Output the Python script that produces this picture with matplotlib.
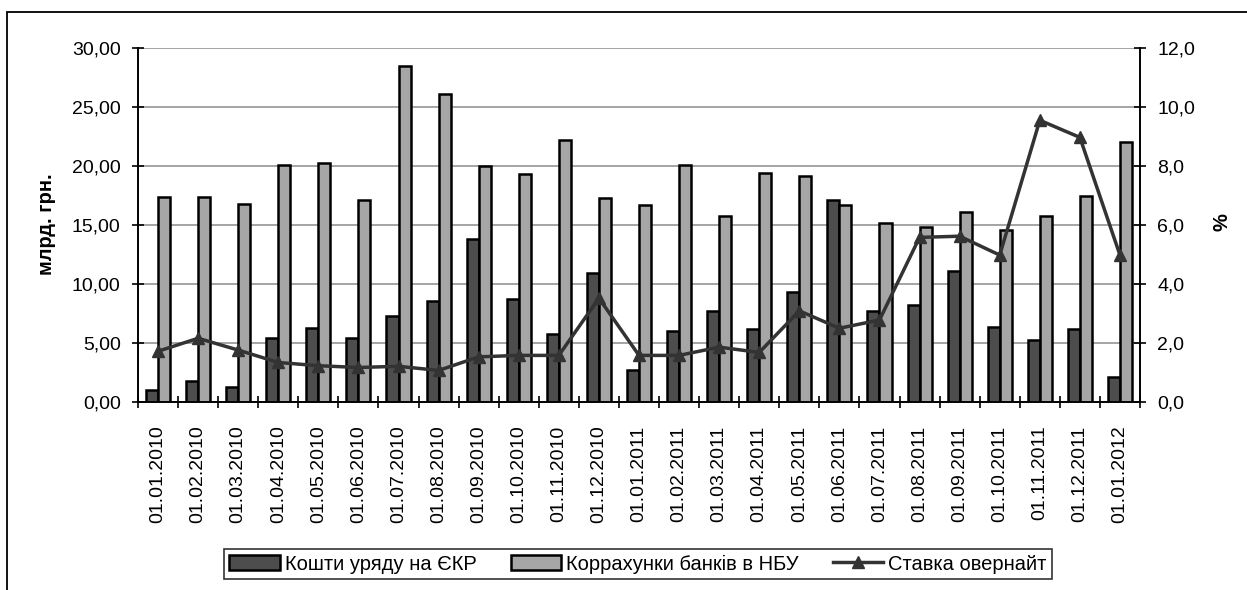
import matplotlib
matplotlib.use('Agg')
import matplotlib.pyplot as plt
from matplotlib.patches import Rectangle
from matplotlib.ticker import FuncFormatter, FixedLocator
import numpy as np

plt.rcParams['font.family'] = ['Liberation Sans', 'DejaVu Sans']

# Дані
dates = ['01.01.2010', '01.02.2010', '01.03.2010', '01.04.2010', '01.05.2010',
         '01.06.2010', '01.07.2010', '01.08.2010', '01.09.2010', '01.10.2010',
         '01.11.2010', '01.12.2010', '01.01.2011', '01.02.2011', '01.03.2011',
         '01.04.2011', '01.05.2011', '01.06.2011', '01.07.2011', '01.08.2011',
         '01.09.2011', '01.10.2011', '01.11.2011', '01.12.2011', '01.01.2012']
gov_funds = [1.0, 1.8, 1.25, 5.4, 6.3, 5.4, 7.3, 8.6, 13.8, 8.75,
             5.75, 10.9, 2.7, 6.0, 7.75, 6.15, 9.3, 17.1, 7.75, 8.2,
             11.1, 6.35, 5.25, 6.15, 2.15]
bank_accounts = [17.4, 17.4, 16.8, 20.1, 20.25, 17.1, 28.5, 26.1, 20.0, 19.3,
                 22.2, 17.25, 16.7, 20.1, 15.8, 19.4, 19.15, 16.7, 15.2, 14.8,
                 16.1, 14.6, 15.8, 17.45, 22.05]
overnight = [1.72, 2.16, 1.76, 1.34, 1.23, 1.17, 1.21, 1.07, 1.53, 1.58,
             1.58, 3.52, 1.58, 1.58, 1.86, 1.68, 3.09, 2.5, 2.78, 5.58,
             5.62, 4.98, 9.55, 8.97, 4.98]

W, H = 1247, 590
fig = plt.figure(figsize=(W / 100, H / 100), dpi=100)

# рамка області діаграми
fig.patches.append(Rectangle((7 / W, -0.1), 1.2, 1 - 12 / H + 0.1, transform=fig.transFigure,
                             fill=False, edgecolor='black', linewidth=1.3))

left, right, top, bottom = 138, 1140, 48, 402
ax = fig.add_axes([left / W, 1 - bottom / H, (right - left) / W, (bottom - top) / H])
ax2 = ax.twinx()

x = np.arange(len(dates))
bw = 0.3
b1 = ax.bar(x - bw / 2, gov_funds, bw, color='#4d4d4d', edgecolor='black', linewidth=1.8,
            label='Кошти уряду на ЄКР', zorder=3)
b2 = ax.bar(x + bw / 2, bank_accounts, bw, color='#a6a6a6', edgecolor='black', linewidth=1.8,
            label='Коррахунки банків в НБУ', zorder=3)
l1, = ax2.plot(x, overnight, color='#333333', linewidth=2.5, marker='^', markersize=8,
               label='Ставка овернайт')

ax.set_xlim(-0.5, len(dates) - 0.5)
ax.set_ylim(0, 30)
ax2.set_ylim(0, 12)
ax.set_yticks(np.arange(0, 31, 5))
ax2.set_yticks(np.arange(0, 13, 2))
ax.yaxis.set_major_formatter(FuncFormatter(lambda v, p: f'{v:.2f}'.replace('.', ',')))
ax2.yaxis.set_major_formatter(FuncFormatter(lambda v, p: f'{v:.1f}'.replace('.', ',')))
ax.grid(axis='y', color='#8c8c8c', linewidth=1.1)
ax.set_axisbelow(True)

ax.set_xticks(x)
ax.set_xticklabels(dates, rotation=90, fontsize=14)
ax.tick_params(axis='x', which='major', length=0, pad=17)
ax.xaxis.set_minor_locator(FixedLocator(np.arange(-0.5, len(dates), 1)))
ax.tick_params(axis='x', which='minor', direction='inout', length=9, width=1.2)

ax.tick_params(axis='y', direction='inout', length=8, width=1.2, labelsize=14, pad=8.5)
ax2.tick_params(axis='y', direction='inout', length=8, width=1.2, labelsize=14, pad=8.5)

for a in (ax, ax2):
    a.spines['top'].set_visible(False)
    for s in ('left', 'right', 'bottom'):
        a.spines[s].set_linewidth(1.2)

fig.text(46 / W, 1 - 224 / H, 'млрд. грн.', rotation=90, ha='center', va='center',
         fontsize=14.5, fontweight='bold')
fig.text(1222 / W, 1 - 222 / H, '%', rotation=90, ha='center', va='center',
         fontsize=14.5, fontweight='bold')

leg = fig.legend([b1, b2, l1], ['Кошти уряду на ЄКР', 'Коррахунки банків в НБУ', 'Ставка овернайт'],
                 loc='center', bbox_to_anchor=(638 / W, 1 - 564 / H), ncol=3, fontsize=14.5,
                 frameon=True, fancybox=False, edgecolor='black', handlelength=2.5,
                 handletextpad=0.25, columnspacing=1.7, borderpad=0.25)
leg.get_frame().set_linewidth(1.2)

plt.savefig('out.png', dpi=100)
